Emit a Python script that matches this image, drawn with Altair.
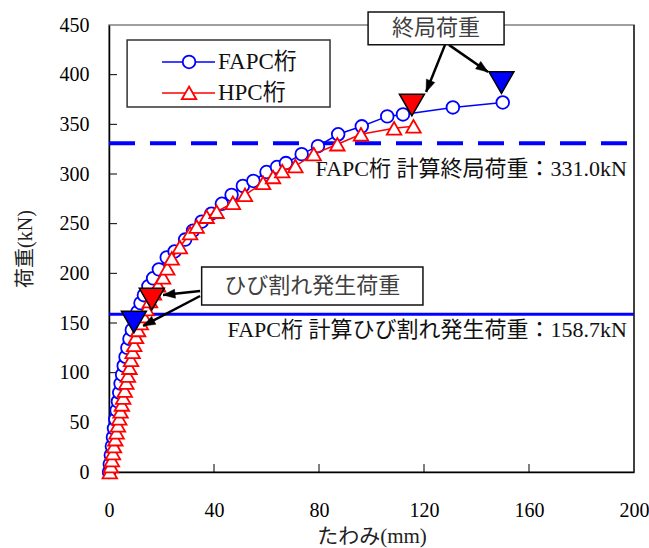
import math
import altair as alt
import pandas as pd

# ---------------- data ----------------
fapc_defl = [0, 0.3, 0.7, 1.1, 1.5, 1.9, 2.4, 2.9, 3.4, 3.9, 4.4, 5.0, 5.6, 6.3, 7.0, 7.8, 8.7, 9.7,
             10.8, 12.0, 13.3, 15.0, 16.8, 19.0, 22.0, 25.0, 29.0, 32.0, 35.3, 39.0, 43.0, 46.7, 51.0,
             55.0, 60.0, 64.0, 67.4, 73.4, 79.6, 87.3, 96.3, 106.0, 112.0, 131.0, 150.0]
fapc_load = [0, 8, 17, 26, 35, 44, 53, 62, 71, 80, 89, 98, 107, 116, 125, 134, 143, 152,
             161, 170, 178, 187, 195, 204, 216, 222, 234, 243, 252, 260, 270, 279, 288,
             293, 302, 307, 311, 320, 328, 340, 348, 358, 360, 367, 372]

hpc_defl = [0.3, 0.7, 1.1, 1.5, 1.9, 2.4, 2.9, 3.4, 3.9, 4.4, 4.9, 5.4, 6.0, 6.6, 7.2, 7.8, 8.4,
            9.0, 9.6, 10.3, 11.1, 12.1, 13.1, 14.3, 15.6, 17.1, 18.7, 20.6, 22.2, 23.9, 27.0,
            30.9, 33.4, 37.2, 41.0, 47.2, 51.8, 58.7, 62.5, 66.0, 71.0, 78.0, 87.0, 96.0, 108.6, 116.0]
hpc_load = [0, 6, 12, 19, 26, 33, 40, 47, 54, 61, 68, 75, 82, 90, 97, 105, 113,
            121, 128, 136, 143, 150, 157, 164, 172, 180, 188, 196, 205, 215, 226.5,
            240.6, 247, 257, 262, 271, 279, 291, 297, 303, 308, 320, 330, 340, 346, 348]

series_names = ["FAPC桁", "HPC桁"]

crack_calc = 158.7
ult_calc = 331.0
label_ult = "FAPC桁 計算終局荷重：331.0kN"
label_crack = "FAPC桁 計算ひび割れ発生荷重：158.7kN"

# annotation markers (filled down triangles): deflection, load, colour
ann_x = [9.5, 16.3, 115.4, 149.5]
ann_y = [151, 174, 369.5, 392]
ann_c = ["#0000ff", "#ff0000", "#ff0000", "#0000ff"]

x_ticks = [0, 40, 80, 120, 160, 200]
y_ticks = [0, 50, 100, 150, 200, 250, 300, 350, 400, 450]

# ---------------- layout ----------------
W, H = 525, 447
XMAX, YMAX = 200, 450
PXX, PXY = W / XMAX, H / YMAX
FONT = "Liberation Serif, Noto Sans CJK JP, serif"
LFONT = "Liberation Serif, Times New Roman, serif"
BLUE, RED = "#0000ff", "#ff0000"

xs = alt.Scale(domain=[0, XMAX], nice=False, zero=False)
ys = alt.Scale(domain=[0, YMAX], nice=False, zero=False)

xaxis = alt.Axis(values=x_ticks, tickSize=0, grid=False, title="たわみ(mm)",
                 labelFont=LFONT, labelFontSize=20, labelColor="#000", labelPadding=28,
                 titleFont=FONT, titleFontSize=21, titleFontWeight="normal", titleColor="#222",
                 titlePadding=5, domainColor="#000", domainWidth=1.5, labelFlush=False)
yaxis = alt.Axis(values=y_ticks, tickSize=0, grid=False, title="荷重(kN)",
                 labelFont=LFONT, labelFontSize=20, labelColor="#000", labelPadding=20,
                 titleFont=FONT, titleFontSize=20, titleFontWeight="normal", titleColor="#222",
                 titlePadding=24, domainColor="#000", domainWidth=1.5, labelFlush=False)


def X(field="x"):
    return alt.X(f"{field}:Q", scale=xs, axis=xaxis)


def Y(field="y"):
    return alt.Y(f"{field}:Q", scale=ys, axis=yaxis)


fapc = pd.DataFrame({"x": fapc_defl, "y": fapc_load})
hpc = pd.DataFrame({"x": hpc_defl, "y": hpc_load})

layers = []

# reference lines
hl = pd.DataFrame({"x": [0], "x2": [XMAX], "y": [crack_calc]})
layers.append(alt.Chart(hl).mark_rule(color=BLUE, strokeWidth=3).encode(x=X(), x2="x2:Q", y=Y()))
dl = pd.DataFrame({"x": [0], "x2": [XMAX], "y": [ult_calc]})
layers.append(alt.Chart(dl).mark_rule(color=BLUE, strokeWidth=4, strokeDash=[26, 15]).encode(
    x=X(), x2="x2:Q", y=Y()))

# inward ticks
xt = pd.DataFrame({"x": x_ticks[1:-1]})
layers.append(alt.Chart(xt).mark_rule(color="#000", strokeWidth=1).encode(
    x=X(), y=alt.value(H), y2=alt.value(H - 8)))
yt = pd.DataFrame({"y": y_ticks[1:-1]})
layers.append(alt.Chart(yt).mark_rule(color="#000", strokeWidth=1).encode(
    y=Y(), x=alt.value(0), x2=alt.value(8)))
# right border
rb = pd.DataFrame({"x": [XMAX], "y": [0], "y2": [YMAX]})
layers.append(alt.Chart(rb).mark_rule(color="#222", strokeWidth=1.5).encode(x=X(), y=Y(), y2="y2:Q"))

# series
layers.append(alt.Chart(fapc).mark_line(color=BLUE, strokeWidth=1.5).encode(x=X(), y=Y(), order="x:Q"))
layers.append(alt.Chart(fapc).mark_point(shape="circle", size=160, filled=True, fill="white",
                                         stroke=BLUE, strokeWidth=1.8, opacity=1).encode(x=X(), y=Y()))
layers.append(alt.Chart(hpc).mark_line(color=RED, strokeWidth=1.5).encode(x=X(), y=Y(), order="x:Q"))
layers.append(alt.Chart(hpc).mark_point(shape="triangle-up", size=210, filled=True, fill="white",
                                        stroke=RED, strokeWidth=1.8, opacity=1).encode(x=X(), y=Y()))

# annotation triangles
ann = pd.DataFrame({"x": ann_x, "y": ann_y, "c": ann_c})
layers.append(alt.Chart(ann).mark_point(shape="triangle-down", size=625, filled=True,
                                        stroke="#000", strokeWidth=1.5, opacity=1).encode(
    x=X(), y=Y(), fill=alt.Fill("c:N", scale=None)))

# arrows: start (x, y) -> tip (x2, y2)
arr_x = [128.0, 129.5, 34.7, 34.7]
arr_y = [430.0, 430.0, 182.2, 177.2]
arr_x2 = [120.8, 144.4, 20.6, 13.0]
arr_y2 = [382.6, 402.7, 178.2, 147.0]
angles = []
for a, b, c, d in zip(arr_x, arr_y, arr_x2, arr_y2):
    dx = (c - a) * PXX
    dy = -(d - b) * PXY
    angles.append(math.degrees(math.atan2(dx, -dy)) % 360)
arr = pd.DataFrame({"x": arr_x, "y": arr_y, "x2": arr_x2, "y2": arr_y2, "ang": angles})
layers.append(alt.Chart(arr).mark_rule(color="#000", strokeWidth=2.5).encode(
    x=X(), y=Y(), x2="x2:Q", y2="y2:Q"))
head = "M0,0L-1.5,4L1.5,4Z"
layers.append(alt.Chart(arr).mark_point(shape=head, size=36, filled=True, fill="#000",
                                        stroke="#000", strokeWidth=0.5, opacity=1).encode(
    x=X("x2"), y=Y("y2"), angle=alt.Angle("ang:Q", scale=None)))

# annotation boxes
boxes = pd.DataFrame({"x": [98.7, 35.3], "x2": [150.5, 119.6], "y": [463.0, 206.4], "y2": [430.0, 168.1],
                      "t": ["終局荷重", "ひび割れ発生荷重"], "tx": [124.6, 77.45], "ty": [446.5, 187.3]})
layers.append(alt.Chart(boxes).mark_rect(fill="white", stroke="#111", strokeWidth=1.5).encode(
    x=X(), x2="x2:Q", y=Y(), y2="y2:Q"))
layers.append(alt.Chart(boxes).mark_text(font=FONT, fontSize=22, color="#404040", baseline="middle",
                                         align="center").encode(x=X("tx"), y=Y("ty"), text="t:N"))

# calc labels
cl = pd.DataFrame({"x": [197.3, 197.3], "y": [305.0, 142.5], "t": [label_ult, label_crack]})
layers.append(alt.Chart(cl).mark_text(font=FONT, fontSize=22, color="#111", baseline="middle",
                                      align="right").encode(x=X(), y=Y(), text="t:N"))

# legend
lg = pd.DataFrame({"x": [6.9], "x2": [84.2], "y": [435.0], "y2": [367.5]})
layers.append(alt.Chart(lg).mark_rect(fill="white", stroke="#333", strokeWidth=1.5).encode(
    x=X(), x2="x2:Q", y=Y(), y2="y2:Q"))
lgl = pd.DataFrame({"x": [20.2, 20.2], "x2": [40.4, 40.4], "y": [412.8, 381.6], "c": [BLUE, RED]})
layers.append(alt.Chart(lgl).mark_rule(strokeWidth=1.5).encode(
    x=X(), x2="x2:Q", y=Y(), color=alt.Color("c:N", scale=None)))
lgp1 = pd.DataFrame({"x": [30.5], "y": [412.8]})
layers.append(alt.Chart(lgp1).mark_point(shape="circle", size=160, filled=True, fill="white",
                                         stroke=BLUE, strokeWidth=1.8, opacity=1).encode(x=X(), y=Y()))
lgp2 = pd.DataFrame({"x": [30.5], "y": [381.6]})
layers.append(alt.Chart(lgp2).mark_point(shape="triangle-up", size=210, filled=True, fill="white",
                                         stroke=RED, strokeWidth=1.8, opacity=1).encode(x=X(), y=Y()))
lgt = pd.DataFrame({"x": [41.5, 41.5], "y": [412.8, 381.6], "t": series_names})
layers.append(alt.Chart(lgt).mark_text(font=FONT, fontSize=23, color="#111", baseline="middle",
                                       align="left").encode(x=X(), y=Y(), text="t:N"))

chart = alt.layer(*layers).properties(
    width=W, height=H,
    padding={"left": 109, "top": 25, "right": 15, "bottom": 76},
    autosize=alt.AutoSizeParams(type="none"),
    background="white",
).configure_view(stroke="#808080", strokeWidth=1.5).configure_axis(
    labelFont=LFONT, titleFont=FONT)

chart.save("out.html", embed_options={"renderer": "svg", "actions": False})
